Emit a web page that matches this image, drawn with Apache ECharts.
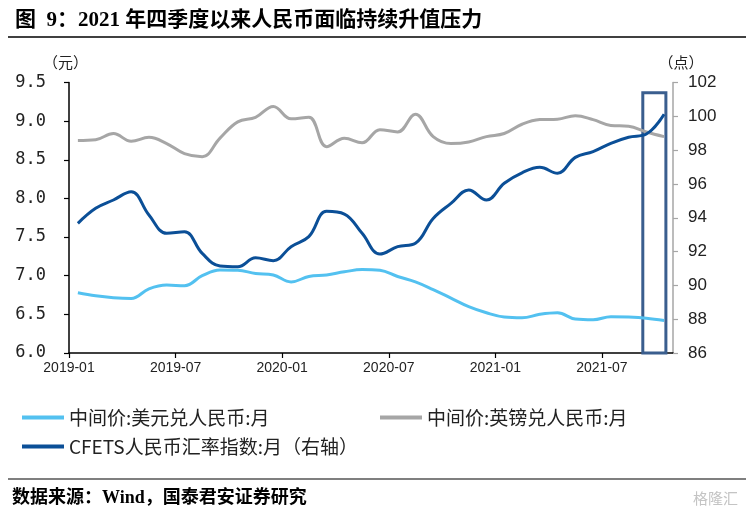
<!DOCTYPE html>
<html>
<head>
<meta charset="utf-8">
<script src="https://cdn.jsdelivr.net/npm/echarts@6/dist/echarts.min.js"></script>
<style>
html,body{margin:0;padding:0;background:#fff;}
#chart{width:751px;height:509px;}
</style>
</head>
<body>
<div id="chart"></div>
<script>
// ---- data ----
const months = ['2019-01','2019-02','2019-03','2019-04','2019-05','2019-06','2019-07','2019-08','2019-09','2019-10','2019-11','2019-12',
  '2020-01','2020-02','2020-03','2020-04','2020-05','2020-06','2020-07','2020-08','2020-09','2020-10','2020-11','2020-12',
  '2021-01','2021-02','2021-03','2021-04','2021-05','2021-06','2021-07','2021-08','2021-09','2021-10'];
const tickLabels = ['2019-01','2019-07','2020-01','2020-07','2021-01','2021-07'];
const usdCny = [6.78,6.74,6.715,6.705,6.83,6.88,6.87,7.00,7.075,7.07,7.03,7.01,
  6.92,6.99,7.01,7.05,7.08,7.07,6.99,6.92,6.82,6.71,6.60,6.52,
  6.465,6.455,6.50,6.52,6.44,6.43,6.47,6.465,6.45,6.42];
const gbpCny = [8.75,8.76,8.84,8.74,8.79,8.71,8.58,8.54,8.78,8.99,9.05,9.19,
  9.03,9.05,8.67,8.78,8.72,8.89,8.86,9.09,8.80,8.71,8.73,8.80,
  8.84,8.96,9.02,9.025,9.07,9.02,8.945,8.935,8.86,8.80];
const cfets = [93.67,94.56,95.05,95.54,94.16,93.08,93.17,91.89,91.14,91.10,91.63,91.46,
  92.29,92.88,94.38,94.22,93.08,91.85,92.29,92.49,93.96,94.85,95.64,95.05,
  96.04,96.66,96.98,96.63,97.57,97.91,98.40,98.76,98.95,100.12];
const seriesNames = ['中间价:美元兑人民币:月','中间价:英镑兑人民币:月','CFETS人民币汇率指数:月（右轴）'];
// highlighted period (axis units: month index), and top of box on right axis
const highlightX = [32.3, 33.6];
const highlightTop = 101.4;

const toPts = arr => arr.map((v, i) => [i + 0.5, v]);
const sansFont = '"Liberation Sans","Noto Sans CJK SC",sans-serif';
const monoFont = '"DejaVu Sans Mono","Liberation Mono",monospace';
const cjkFont = '"Noto Sans CJK SC","Liberation Sans",sans-serif';
const serifFont = '"Liberation Serif","Noto Sans CJK SC",serif';

const chart = echarts.init(document.getElementById('chart'), null, {renderer: 'canvas'});
chart.setOption({
  backgroundColor: '#fff',
  animation: false,
  title: [
    {text: '图  9：2021 年四季度以来人民币面临持续升值压力', left: 10, top: 5,
     textStyle: {fontSize: 21, fontWeight: 'bold', color: '#000', fontFamily: serifFont}},
    {text: '数据来源：Wind，国泰君安证券研究', left: 7, top: 484,
     textStyle: {fontSize: 18, fontWeight: 'bold', color: '#000', fontFamily: serifFont}},
    {text: '格隆汇', right: 8, top: 486,
     textStyle: {fontSize: 15, fontWeight: 'normal', color: '#c4c4c4', fontFamily: cjkFont}}
  ],
  graphic: [
    {type: 'line', shape: {x1: 8, y1: 37, x2: 746, y2: 37}, style: {stroke: '#000', lineWidth: 1.5}},
    {type: 'line', shape: {x1: 8, y1: 479, x2: 746, y2: 479}, style: {stroke: '#000', lineWidth: 1.2}}
  ],
  grid: {left: 69, right: 78, top: 82.5, bottom: 156, containLabel: false},
  legend: [
    {data: [seriesNames[0]], left: 17, top: 403, icon: 'rect', itemWidth: 42, itemHeight: 4,
     textStyle: {fontSize: 19, color: '#222', fontFamily: cjkFont}},
    {data: [seriesNames[1]], left: 375, top: 403, icon: 'rect', itemWidth: 42, itemHeight: 4,
     textStyle: {fontSize: 19, color: '#222', fontFamily: cjkFont}},
    {data: [seriesNames[2]], left: 17, top: 432, icon: 'rect', itemWidth: 42, itemHeight: 4,
     textStyle: {fontSize: 19, color: '#222', fontFamily: cjkFont}}
  ],
  xAxis: {
    type: 'value', min: 0, max: months.length, interval: 6,
    axisLine: {show: true, lineStyle: {color: '#000', width: 1.5}},
    axisTick: {show: true, length: 5, lineStyle: {color: '#000', width: 1.2}},
    splitLine: {show: false},
    axisLabel: {
      fontSize: 14, color: '#222', fontFamily: sansFont, margin: 8, showMaxLabel: false,
      formatter: v => (v % 6 === 0 && v / 6 < tickLabels.length) ? tickLabels[v / 6] : ''
    }
  },
  yAxis: [
    {type: 'value', min: 6, max: 9.5, interval: 0.5, position: 'left',
     name: '（元）', nameLocation: 'end', nameGap: 13,
     nameTextStyle: {fontSize: 15, color: '#222', fontFamily: cjkFont, align: 'center', padding: [0, 7, 0, 0]},
     axisLine: {show: true, lineStyle: {color: '#000', width: 1.5}},
     axisTick: {show: true, length: 5, lineStyle: {color: '#000', width: 1.2}},
     splitLine: {show: false},
     axisLabel: {fontSize: 17, color: '#222', fontFamily: monoFont, margin: 23, formatter: v => v.toFixed(1)}},
    {type: 'value', min: 86, max: 102, interval: 2, position: 'right',
     name: '（点）', nameLocation: 'end', nameGap: 13,
     nameTextStyle: {fontSize: 15, color: '#222', fontFamily: cjkFont, align: 'center', padding: [0, 0, 0, 16]},
     axisLine: {show: true, lineStyle: {color: '#a6a6a6', width: 1.5}},
     axisTick: {show: true, length: 5, lineStyle: {color: '#a6a6a6', width: 1.2}},
     splitLine: {show: false},
     axisLabel: {fontSize: 17, color: '#222', fontFamily: sansFont, margin: 15}}
  ],
  series: [
    {name: seriesNames[0], type: 'line', yAxisIndex: 0, data: toPts(usdCny), smooth: 0.4, symbol: 'none',
     lineStyle: {color: '#53c1f0', width: 3}, itemStyle: {color: '#53c1f0'}},
    {name: seriesNames[1], type: 'line', yAxisIndex: 0, data: toPts(gbpCny), smooth: 0.4, symbol: 'none',
     lineStyle: {color: '#a6a6a6', width: 3}, itemStyle: {color: '#a6a6a6'}},
    {name: seriesNames[2], type: 'line', yAxisIndex: 1, data: toPts(cfets), smooth: 0.4, symbol: 'none',
     lineStyle: {color: '#0b4f97', width: 3}, itemStyle: {color: '#0b4f97'},
     markArea: {silent: true,
       itemStyle: {color: 'rgba(0,0,0,0)', borderColor: '#3a5e8e', borderWidth: 3},
       data: [[{xAxis: highlightX[0], yAxis: 86}, {xAxis: highlightX[1], yAxis: highlightTop}]]}}
  ]
});
</script>
</body>
</html>
